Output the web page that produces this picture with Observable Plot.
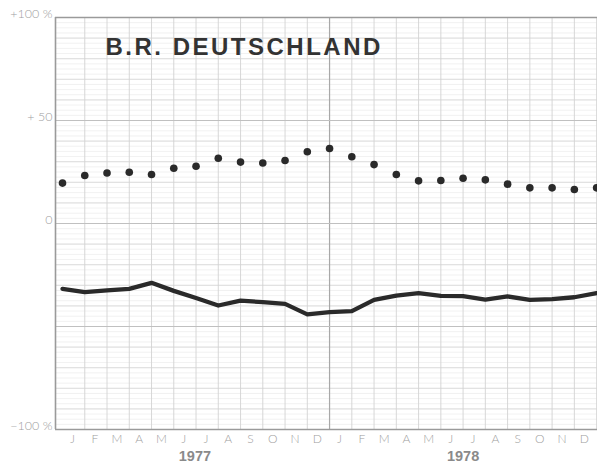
<!DOCTYPE html>
<html><head><meta charset="utf-8">
<script src="https://cdn.jsdelivr.net/npm/d3@7"></script>
<script src="https://cdn.jsdelivr.net/npm/@observablehq/plot@0.6"></script>
<style>
body{margin:0;background:#fff;}
</style></head>
<body><div id="chart"></div>
<script>
const title = "B.R. DEUTSCHLAND";
const months = ["J","F","M","A","M","J","J","A","S","O","N","D","J","F","M","A","M","J","J","A","S","O","N","D"];
const years = ["1977","1978"];
const yearPos = [5.95, 18];
// dotted series (upper), one point per month boundary, 25 points
const dotValues = [19.6,23.3,24.5,24.9,23.8,26.8,27.8,31.7,29.8,29.4,30.6,34.8,36.4,32.4,28.6,23.8,20.7,20.9,22.0,21.2,19.1,17.3,17.3,16.5,17.3];
// solid series (lower)
const lineValues = [-31.7,-33.3,-32.5,-31.7,-28.8,-32.7,-36.2,-39.8,-37.4,-38.2,-39.0,-44.1,-43.0,-42.5,-37.1,-35.0,-33.8,-35.1,-35.3,-36.9,-35.4,-37.1,-36.7,-35.8,-33.8];
const yTicks = [100, 50, 0, -100];
const yTickLabels = ["+100 %", "+ 50", "0", "\u2212100 %"];

const dots = dotValues.map((v,i)=>({i, v}));
const line = lineValues.map((v,i)=>({i, v}));
const minor = d3.range(-100, 101, 2.5);
const mid = d3.range(-100, 101, 10);
const major = [-50, 0, 50];
const vlines = d3.range(1, 25);
const monthData = months.map((m,i)=>({m, x: i + 0.45}));
const yearData = years.map((y,k)=>({y, x: yearPos[k]}));
const yLab = yTicks.map((t,k)=>({t, label: yTickLabels[k]}));

const chart = Plot.plot({
  width: 597, height: 465,
  marginLeft: 55, marginTop: 17, marginBottom: 36, marginRight: 0,
  x: {domain: [-0.315, 24.04], axis: null},
  y: {domain: [-100, 100], axis: null},
  style: {fontFamily: "Lato, 'DejaVu Sans', sans-serif", background: "#fff"},
  marks: [
    Plot.ruleY(minor, {stroke: "#e8e8e8", strokeWidth: 0.6}),
    Plot.ruleY(mid, {stroke: "#d8d8d8", strokeWidth: 0.8}),
    Plot.ruleX(vlines, {stroke: d => d === 12 ? "#a8a8a8" : "#d2d2d2", strokeWidth: d => d === 12 ? 1.2 : 0.9}),
    Plot.ruleY(major, {stroke: "#c0c0c0", strokeWidth: 1}),
    Plot.ruleY([100, -100], {stroke: "#9a9a9a", strokeWidth: 1.4}),
    Plot.ruleX([-0.315], {stroke: "#9a9a9a", strokeWidth: 1.6}),
    Plot.text([title], {frameAnchor: "top-left", dx: 50, dy: 20, text: d => d,
      fontSize: 24, fontWeight: "bold", fill: "#333", textAnchor: "start",
      fontFamily: "'Liberation Sans', Arial, sans-serif", lineAnchor: "top"}),
    Plot.line(line, {x: "i", y: "v", stroke: "#2a2a2a", strokeWidth: 4.3, strokeLinejoin: "round"}),
    Plot.dot(dots, {x: "i", y: "v", r: 3.8, fill: "#2a2a2a", stroke: "none"}),
    Plot.text(yLab, {x: -0.315, y: "t", text: "label", dx: -3, dy: -4, textAnchor: "end",
      fill: "#a0a0a0", fontSize: 12.5, fontWeight: 300}),
    Plot.text(monthData, {x: "x", y: -100, text: "m", dy: 10, fill: "#a0a0a0", fontSize: 12, fontWeight: 300}),
    Plot.text(yearData, {x: "x", y: -100, text: "y", dy: 27, fill: "#8a8a8a", fontSize: 14.5, fontWeight: "bold",
      fontFamily: "'Liberation Sans', Arial, sans-serif"})
  ]
});
chart.querySelectorAll("text").forEach(t => {
  if (t.textContent === title) t.style.letterSpacing = "2.5px";
});
document.getElementById("chart").append(chart);
</script>
</body></html>
